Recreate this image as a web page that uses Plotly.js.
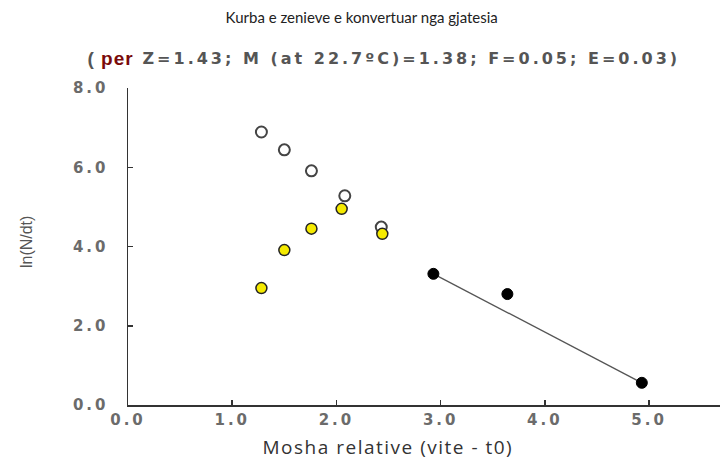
<!DOCTYPE html>
<html><head><meta charset="utf-8">
<script src="https://cdn.plot.ly/plotly-3.0.1.min.js"></script>
<style>
html,body{margin:0;padding:0;background:#fff}
#chart{width:722px;height:460px}
.xtick text,.ytick text{letter-spacing:3px}
g.annotation[data-index="0"] text{letter-spacing:1px}
g.annotation[data-index="1"] text{letter-spacing:3px}
g.annotation[data-index="2"] text{letter-spacing:1.5px}
</style>
</head><body><div id="chart"></div>
<script>
// Open circles
const openX = [1.28, 1.50, 1.76, 2.08, 2.43];
const openY = [6.89, 6.44, 5.91, 5.28, 4.49];
// Yellow points
const yellowX = [1.28, 1.50, 1.76, 2.05, 2.44];
const yellowY = [2.95, 3.91, 4.45, 4.95, 4.32];
// Black points (used in regression)
const blackX = [2.93, 3.64, 4.93];
const blackY = [3.31, 2.80, 0.56];
// Regression line endpoints
const lineX = [2.93, 4.93];
const lineY = [3.31, 0.56];
const xTicks = [0, 1, 2, 3, 4, 5];
const xTickText = ["0.0", "1.0", "2.0", "3.0", "4.0", "5.0"];
const yTicks = [0, 2, 4, 6, 8];
const yTickText = ["0.0", "2.0", "4.0", "6.0", "8.0"];

const traces = [
  {x: lineX, y: lineY, mode: 'lines', line: {color: '#555', width: 1.3}, hoverinfo: 'skip'},
  {x: openX, y: openY, mode: 'markers', marker: {symbol: 'circle', size: 11, color: '#fff', line: {color: '#444', width: 2}}},
  {x: yellowX, y: yellowY, mode: 'markers', marker: {symbol: 'circle', size: 11, color: '#f5ea00', line: {color: '#222', width: 1.5}}},
  {x: blackX, y: blackY, mode: 'markers', marker: {symbol: 'circle', size: 11, color: '#000', line: {color: '#000', width: 1}}}
];

const tickFont = {family: 'DejaVu Sans, sans-serif', size: 15, color: '#6b6b6b', weight: 'bold'};

const layout = {
  width: 722, height: 460,
  margin: {l: 128, r: 2, t: 88, b: 55},
  paper_bgcolor: '#fff', plot_bgcolor: '#fff',
  showlegend: false,
  title: {text: 'Kurba e zenieve e konvertuar nga gjatesia', font: {family: 'Lato, Open Sans, sans-serif', size: 15, color: '#222'}, x: 0.501, xanchor: 'center', y: 0.962, yanchor: 'middle'},
  xaxis: {
    range: [0, 5.68], showgrid: false, zeroline: false,
    showline: true, linecolor: '#333', linewidth: 1.5, mirror: false,
    ticks: 'inside', ticklen: 5, tickcolor: '#333', tickwidth: 1.5,
    tickvals: xTicks, ticktext: xTickText, tickfont: tickFont
  },
  yaxis: {
    range: [0, 8], showgrid: false, zeroline: false,
    showline: true, linecolor: '#333', linewidth: 1.5, mirror: false,
    ticks: 'inside', ticklen: 5, tickcolor: '#333', tickwidth: 1.5,
    tickvals: yTicks, ticktext: yTickText, tickfont: tickFont,
    ticklabelstandoff: 15
  },
  annotations: [
    {xref: 'paper', yref: 'paper', x: -0.0279, y: 1.0946, xanchor: 'center', yanchor: 'middle', showarrow: false,
     text: "<span style='color:#555'>(</span> <span style='color:#7a0a0a'>per</span>",
     font: {family: 'Liberation Sans Narrow, Arial Narrow, sans-serif', size: 19, color: '#555', weight: 'bold'}},
    {xref: 'paper', yref: 'paper', x: 0.479, y: 1.0946, xanchor: 'center', yanchor: 'middle', showarrow: false,
     text: "Z=1.43; M (at 22.7ºC)=1.38; F=0.05; E=0.03)",
     font: {family: 'DejaVu Sans, sans-serif', size: 16, color: '#555', weight: 'bold'}},
    {xref: 'paper', yref: 'paper', x: 0.439, y: -0.1325, xanchor: 'center', yanchor: 'middle', showarrow: false,
     text: 'Mosha relative (vite - t0)',
     font: {family: 'Open Sans, Noto Sans, sans-serif', size: 19, color: '#333'}},
    {xref: 'paper', yref: 'paper', x: -0.1723, y: 0.514, xanchor: 'center', yanchor: 'middle', showarrow: false, textangle: -90,
     text: 'ln(N/dt)',
     font: {family: 'Liberation Sans, Arial, sans-serif', size: 16, color: '#555'}}
  ]
};

Plotly.newPlot('chart', traces, layout, {displayModeBar: false, staticPlot: true});
</script></body></html>
